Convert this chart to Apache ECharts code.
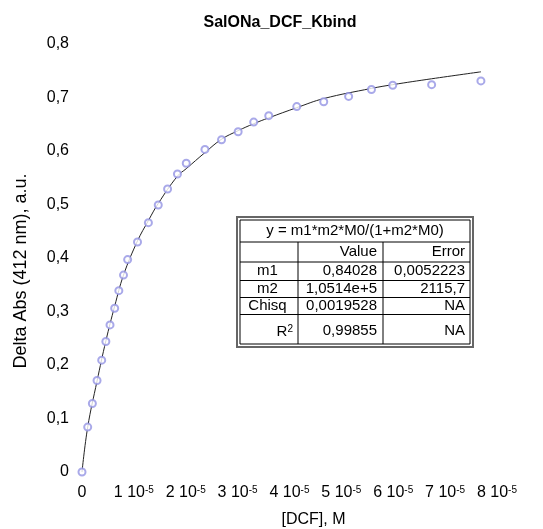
<!DOCTYPE html>
<html>
<head>
<meta charset="utf-8">
<script src="https://cdn.jsdelivr.net/npm/echarts@6/dist/echarts.min.js"></script>
<style>html,body{margin:0;padding:0;background:#fff}#c{width:543px;height:529px}</style>
</head>
<body>
<div id="c"></div>
<script>
// Measured data: [DCF] in units of 1e-5 M, Delta Abs in a.u.
var dataX = [0, 0.11, 0.20, 0.29, 0.38, 0.46, 0.54, 0.63, 0.71, 0.80, 0.88, 1.07, 1.28, 1.47, 1.65, 1.84, 2.01, 2.37, 2.69, 3.01, 3.31, 3.60, 4.14, 4.66, 5.14, 5.58, 5.99, 6.74, 7.69];
var dataY = [0, 0.084, 0.128, 0.171, 0.209, 0.244, 0.275, 0.306, 0.339, 0.368, 0.397, 0.430, 0.466, 0.499, 0.529, 0.557, 0.577, 0.603, 0.621, 0.636, 0.654, 0.666, 0.683, 0.692, 0.702, 0.715, 0.723, 0.724, 0.731];
// Fitted curve
var fitX = [0, 0.11, 0.29, 0.46, 0.63, 0.80, 1.07, 1.28, 1.47, 1.84, 2.01, 2.37, 2.69, 3.01, 3.31, 3.60, 4.14, 4.66, 5.58, 5.99, 6.74, 7.69];
var fitY = [0, 0.084, 0.170, 0.245, 0.310, 0.368, 0.432, 0.470, 0.502, 0.553, 0.567, 0.597, 0.622, 0.638, 0.651, 0.662, 0.681, 0.698, 0.717, 0.724, 0.735, 0.748];
var xTickLabels = ['0', '1 10|-5', '2 10|-5', '3 10|-5', '4 10|-5', '5 10|-5', '6 10|-5', '7 10|-5', '8 10|-5'];
var yTickLabels = ['0', '0,1', '0,2', '0,3', '0,4', '0,5', '0,6', '0,7', '0,8'];
var tableHeader = 'y = m1*m2*M0/(1+m2*M0)';
var tableCols = ['', 'Value', 'Error'];
var tableRows = [['m1', '0,84028', '0,0052223'], ['m2', '1,0514e+5', '2115,7'], ['Chisq', '0,0019528', 'NA'], ['R2', '0,99855', 'NA']];

var SCALE = 1e-5;
var pts = dataX.map(function (x, i) { return [x * SCALE, dataY[i]]; });
var fit = fitX.map(function (x, i) { return [x * SCALE, fitY[i]]; });

var FONT = 'Liberation Sans, Arial, sans-serif';

// table graphic
var tx = 237, ty = 217, tw = 236, th = 130;
var colX = [tx, 298, 383, tx + tw];
var rowY = [ty, 242, 262, 280.5, 297.5, 314.5, ty + th];
var g = [];
g.push({ type: 'rect', shape: { x: tx, y: ty, width: tw, height: th }, style: { fill: '#fff', stroke: '#666', lineWidth: 2 } });
g.push({ type: 'rect', shape: { x: tx + 3, y: ty + 3, width: tw - 6, height: th - 6 }, style: { fill: 'none', stroke: '#000', lineWidth: 1 } });
for (var r = 1; r < rowY.length - 1; r++) {
  g.push({ type: 'line', shape: { x1: tx + 3, y1: rowY[r], x2: tx + tw - 3, y2: rowY[r] }, style: { stroke: '#000', lineWidth: 1 } });
}
[1, 2].forEach(function (c) {
  g.push({ type: 'line', shape: { x1: colX[c], y1: rowY[1], x2: colX[c], y2: ty + th - 3 }, style: { stroke: '#000', lineWidth: 1 } });
});
function cellText(text, col, row, align) {
  var yc = (rowY[row] + rowY[row + 1]) / 2 + (row === 0 ? 1 : 0);
  var x;
  if (align === 'center') x = (colX[col] + colX[col + 1]) / 2;
  else x = colX[col + 1] - (col === 2 ? 8 : 6);
  return { type: 'text', x: x, y: yc, style: { text: text, fill: '#000', font: '15px ' + FONT, textAlign: align, textVerticalAlign: 'middle' } };
}
g.push({ type: 'text', x: tx + tw / 2, y: (rowY[0] + rowY[1]) / 2 + 1, style: { text: tableHeader, fill: '#000', font: '15px ' + FONT, textAlign: 'center', textVerticalAlign: 'middle' } });
g.push(cellText(tableCols[1], 1, 1, 'right'));
g.push(cellText(tableCols[2], 2, 1, 'right'));
tableRows.forEach(function (row, i) {
  var ri = i + 2;
  if (row[0] === 'R2') {
    var yc = (rowY[ri] + rowY[ri + 1]) / 2 + 1;
    g.push({ type: 'text', x: colX[1] - 5, y: yc, style: { rich: { a: { font: '15px ' + FONT, fill: '#000' }, s: { font: '10px ' + FONT, fill: '#000', verticalAlign: 'top' } }, text: '{a|R}{s|2}', textAlign: 'right', textVerticalAlign: 'middle' } });
  } else {
    g.push(cellText(row[0], 0, ri, 'center'));
  }
  g.push(cellText(row[1], 1, ri, 'right'));
  g.push(cellText(row[2], 2, ri, 'right'));
});

var chart = echarts.init(document.getElementById('c'));
chart.setOption({
  animation: false,
  backgroundColor: '#fff',
  title: { text: 'SalONa_DCF_Kbind', left: 275, top: 10, textAlign: 'center', textStyle: { fontFamily: FONT, fontSize: 16, fontWeight: 'bold', color: '#000' } },
  grid: { left: 82, right: 46, top: 44, bottom: 57, outerBoundsMode: 'none', containLabel: false },
  xAxis: {
    type: 'value', min: 0, max: 8 * SCALE, interval: SCALE,
    axisLine: { show: false }, axisTick: { show: false }, splitLine: { show: false },
    axisLabel: {
      margin: 13,
      formatter: function (v) {
        var s = xTickLabels[Math.round(v / SCALE)];
        var p = s.split('|');
        return p.length > 1 ? '{a|' + p[0] + '}{s|' + p[1] + '}' : '{a|' + p[0] + '}';
      },
      rich: { a: { fontFamily: FONT, fontSize: 16, color: '#000' }, s: { fontFamily: FONT, fontSize: 10, color: '#000', verticalAlign: 'top' } }
    },
    name: '[DCF], M', nameLocation: 'middle', nameGap: 40,
    nameTextStyle: { fontFamily: FONT, fontSize: 16, color: '#000', padding: [0, 0, 0, 48] }
  },
  yAxis: {
    type: 'value', min: 0, max: 0.8, interval: 0.1,
    axisLine: { show: false }, axisTick: { show: false }, splitLine: { show: false },
    axisLabel: {
      margin: 13, fontFamily: FONT, fontSize: 16, color: '#000',
      formatter: function (v) { return yTickLabels[Math.round(v * 10)]; }
    },
    name: 'Delta Abs (412 nm), a.u.', nameLocation: 'middle', nameGap: 52,
    nameTextStyle: { fontFamily: FONT, fontSize: 18, color: '#000', padding: [0, 26, 0, 0] }
  },
  series: [
    { type: 'line', data: fit, smooth: 0.4, showSymbol: false, symbol: 'none', lineStyle: { color: '#222', width: 1 }, z: 2 },
    { type: 'scatter', data: pts, symbol: 'emptyCircle', symbolSize: 7, itemStyle: { color: '#9494e4', borderColor: '#9494e4', borderWidth: 0.7 }, z: 3 }
  ],
  graphic: g
});
</script>
</body>
</html>
